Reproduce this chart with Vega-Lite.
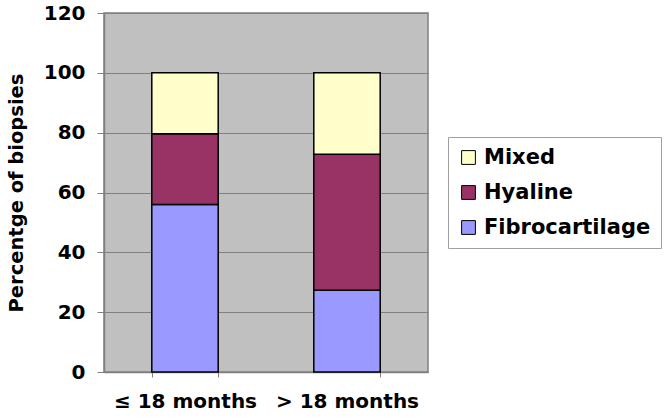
{
  "$schema": "https://vega.github.io/schema/vega-lite/v6.json",
  "width": 324,
  "height": 359,
  "autosize": {"type": "none"},
  "padding": {"left": 104, "top": 13, "right": 241, "bottom": 47},
  "background": "white",
  "config": {
    "font": "DejaVu Sans",
    "view": {"fill": "#C0C0C0", "stroke": "#808080", "strokeWidth": 1.5}
  },
  "data": {
    "values": [
      {"group": "≤ 18 months", "type": "Fibrocartilage", "value": 56.0, "ord": 1},
      {"group": "≤ 18 months", "type": "Hyaline", "value": 23.6, "ord": 2},
      {"group": "≤ 18 months", "type": "Mixed", "value": 20.4, "ord": 3},
      {"group": "> 18 months", "type": "Fibrocartilage", "value": 27.3, "ord": 1},
      {"group": "> 18 months", "type": "Hyaline", "value": 45.5, "ord": 2},
      {"group": "> 18 months", "type": "Mixed", "value": 27.2, "ord": 3}
    ]
  },
  "mark": {"type": "bar", "stroke": "black", "strokeWidth": 1.5},
  "encoding": {
    "x": {
      "field": "group",
      "type": "nominal",
      "sort": ["≤ 18 months", "> 18 months"],
      "scale": {"paddingInner": 0.59, "paddingOuter": 0.295},
      "axis": {
        "title": null,
        "labelAngle": 0,
        "labelFont": "DejaVu Sans",
        "labelFontWeight": "bold",
        "labelFontSize": 20,
        "labelColor": "black",
        "labelPadding": 14,
        "labelLimit": 0,
        "tickBand": "extent",
        "tickSize": 5,
        "tickColor": "#808080",
        "domainColor": "#808080",
        "domainWidth": 1.5
      }
    },
    "y": {
      "field": "value",
      "type": "quantitative",
      "stack": "zero",
      "scale": {"domain": [0, 120], "nice": false},
      "axis": {
        "title": "Percentge of biopsies",
        "titleFont": "DejaVu Sans",
        "titleFontWeight": "bold",
        "titleFontSize": 19.5,
        "titleColor": "black",
        "titlePadding": 17,
        "values": [0, 20, 40, 60, 80, 100, 120],
        "labelFont": "DejaVu Sans",
        "labelFontWeight": "bold",
        "labelFontSize": 20,
        "labelColor": "black",
        "labelPadding": 12,
        "tickSize": 7,
        "tickColor": "#808080",
        "domainColor": "#808080",
        "domainWidth": 1.5,
        "grid": true,
        "gridColor": "#808080",
        "gridWidth": 1
      }
    },
    "color": {
      "field": "type",
      "type": "nominal",
      "scale": {
        "domain": ["Mixed", "Hyaline", "Fibrocartilage"],
        "range": ["#FFFFCC", "#993366", "#9999FF"]
      },
      "legend": {
        "title": null,
        "orient": "none",
        "legendX": 344,
        "legendY": 124,
        "symbolType": "square",
        "symbolSize": 190,
        "symbolStrokeColor": "black",
        "symbolStrokeWidth": 1,
        "labelFont": "DejaVu Sans",
        "labelFontWeight": "bold",
        "labelFontSize": 21,
        "labelColor": "black",
        "labelLimit": 0,
        "labelOffset": 5,
        "rowPadding": 13,
        "padding": 10,
        "strokeColor": "#A0A0A0",
        "fillColor": "white"
      }
    },
    "order": {"field": "ord", "type": "quantitative"}
  }
}
